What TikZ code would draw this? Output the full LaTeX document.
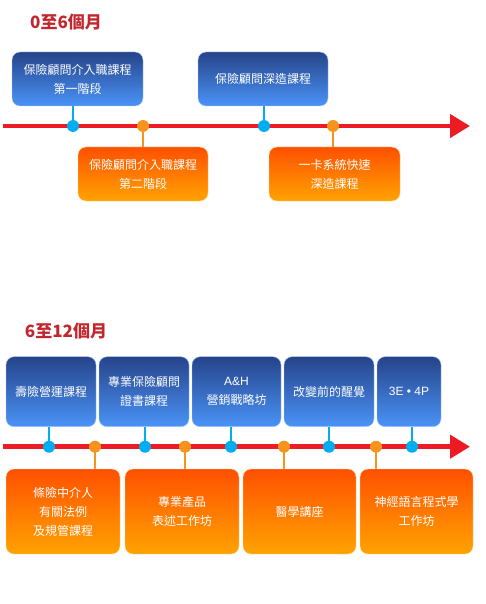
\documentclass[tikz,border=0pt]{standalone}
\usepackage{fontspec}
\newfontfamily\cjk{Noto Sans CJK TC}
\newfontfamily\latin{Liberation Sans}
\usetikzlibrary{arrows.meta}
\definecolor{titlered}{HTML}{C1272D}
\definecolor{linered}{HTML}{ED1C24}
\definecolor{navytop}{HTML}{26448A}
\definecolor{skybot}{HTML}{4A93F7}
\definecolor{flametop}{HTML}{FF5000}
\definecolor{ambbot}{HTML}{FFA300}
\definecolor{cyandot}{HTML}{00AEEF}
\definecolor{orangedot}{HTML}{F7941D}
\begin{document}
\begin{tikzpicture}[x=1pt,y=-1pt,
    bluebox/.style={rounded corners=8pt,top color=navytop,bottom color=skybot,draw=skybot!45!white,
        text=white,align=center,inner sep=0pt,font=\cjk\fontsize{12}{19}\selectfont},
    orangebox/.style={rounded corners=8pt,top color=flametop,bottom color=ambbot,draw=ambbot!40!white,
        text=white,align=center,inner sep=0pt,font=\cjk\fontsize{12}{19}\selectfont},
    bdot/.style={circle,fill=cyandot,minimum size=12pt,inner sep=0pt},
    odot/.style={circle,fill=orangedot,minimum size=12pt,inner sep=0pt},
    bstem/.style={cyandot,line width=2pt},
    ostem/.style={orangedot,line width=2pt},
    timeline/.style={linered,line width=4.5pt,-{Triangle[length=20pt,width=23pt]}},
    heading/.style={titlered,font=\cjk\bfseries\fontsize{17}{20}\selectfont}]
    \useasboundingbox (0,0) rectangle (486,604);

    % 0 to 6 months
    \node[heading] (t1) at (66,22) {0至6個月};
    \coordinate (s1) at (3,126);
    \coordinate (e1) at (470,126);
    \draw[timeline] (s1) -- (e1);

    \node[bluebox,minimum width=131pt,minimum height=54pt] (a1) at (77.5,79) {保險顧問介入職課程\\第一階段};
    \node[bluebox,minimum width=130pt,minimum height=54pt] (a2) at (263,79) {保險顧問深造課程};
    \node[orangebox,minimum width=130pt,minimum height=54pt] (a3) at (143,174) {保險顧問介入職課程\\第二階段};
    \node[orangebox,minimum width=131pt,minimum height=54pt] (a4) at (334.5,174) {一卡系統快速\\深造課程};

    \coordinate (p1) at (73,126);
    \coordinate (p2) at (264,126);
    \coordinate (q1) at (143,126);
    \coordinate (q2) at (333,126);
    \draw[bstem] (a1.south -| p1) -- (p1);
    \draw[bstem] (a2.south -| p2) -- (p2);
    \draw[ostem] (a3.north -| q1) -- (q1);
    \draw[ostem] (a4.north -| q2) -- (q2);
    \node[bdot] (d1) at (p1) {};
    \node[bdot] (d2) at (p2) {};
    \node[odot] (d3) at (q1) {};
    \node[odot] (d4) at (q2) {};

    % 6 to 12 months
    \node[heading] (t2) at (66,331) {6至12個月};
    \coordinate (s2) at (3,446.7);
    \coordinate (e2) at (470,446.7);
    \draw[timeline] (s2) -- (e2);

    \node[bluebox,minimum width=90pt,minimum height=70pt] (b1) at (51,391.7) {壽險營運課程};
    \node[bluebox,minimum width=90pt,minimum height=70pt] (b2) at (144,391.7) {專業保險顧問\\證書課程};
    \node[bluebox,minimum width=89pt,minimum height=70pt] (b3) at (236.5,391.7) {{\latin A\&H}\\營銷戰略坊};
    \node[bluebox,minimum width=90pt,minimum height=70pt] (b4) at (329,391.7) {改變前的醒覺};
    \node[bluebox,minimum width=64pt,minimum height=70pt] (b5) at (409,391.7) {\latin 3E • 4P};
    \node[orangebox,minimum width=114pt,minimum height=85pt] (c1) at (63,511.5) {條險中介人\\有關法例\\及規管課程};
    \node[orangebox,minimum width=114pt,minimum height=85pt] (c2) at (182,511.5) {專業產品\\表述工作坊};
    \node[orangebox,minimum width=113pt,minimum height=85pt] (c3) at (299.5,511.5) {醫學講座};
    \node[orangebox,minimum width=113pt,minimum height=85pt] (c4) at (416.5,511.5) {神經語言程式學\\工作坊};

    \coordinate (u1) at (49,446.7);
    \coordinate (u2) at (145,446.7);
    \coordinate (u3) at (231,446.7);
    \coordinate (u4) at (329,446.7);
    \coordinate (u5) at (412,446.7);
    \coordinate (v1) at (95,446.7);
    \coordinate (v2) at (185,446.7);
    \coordinate (v3) at (284,446.7);
    \coordinate (v4) at (376,446.7);
    \draw[bstem] (b1.south -| u1) -- (u1);
    \draw[bstem] (b2.south -| u2) -- (u2);
    \draw[bstem] (b3.south -| u3) -- (u3);
    \draw[bstem] (b4.south -| u4) -- (u4);
    \draw[bstem] (b5.south -| u5) -- (u5);
    \draw[ostem] (c1.north -| v1) -- (v1);
    \draw[ostem] (c2.north -| v2) -- (v2);
    \draw[ostem] (c3.north -| v3) -- (v3);
    \draw[ostem] (c4.north -| v4) -- (v4);
    \node[bdot] (f1) at (u1) {};
    \node[bdot] (f2) at (u2) {};
    \node[bdot] (f3) at (u3) {};
    \node[bdot] (f4) at (u4) {};
    \node[bdot] (f5) at (u5) {};
    \node[odot] (g1) at (v1) {};
    \node[odot] (g2) at (v2) {};
    \node[odot] (g3) at (v3) {};
    \node[odot] (g4) at (v4) {};
\end{tikzpicture}
\end{document}
